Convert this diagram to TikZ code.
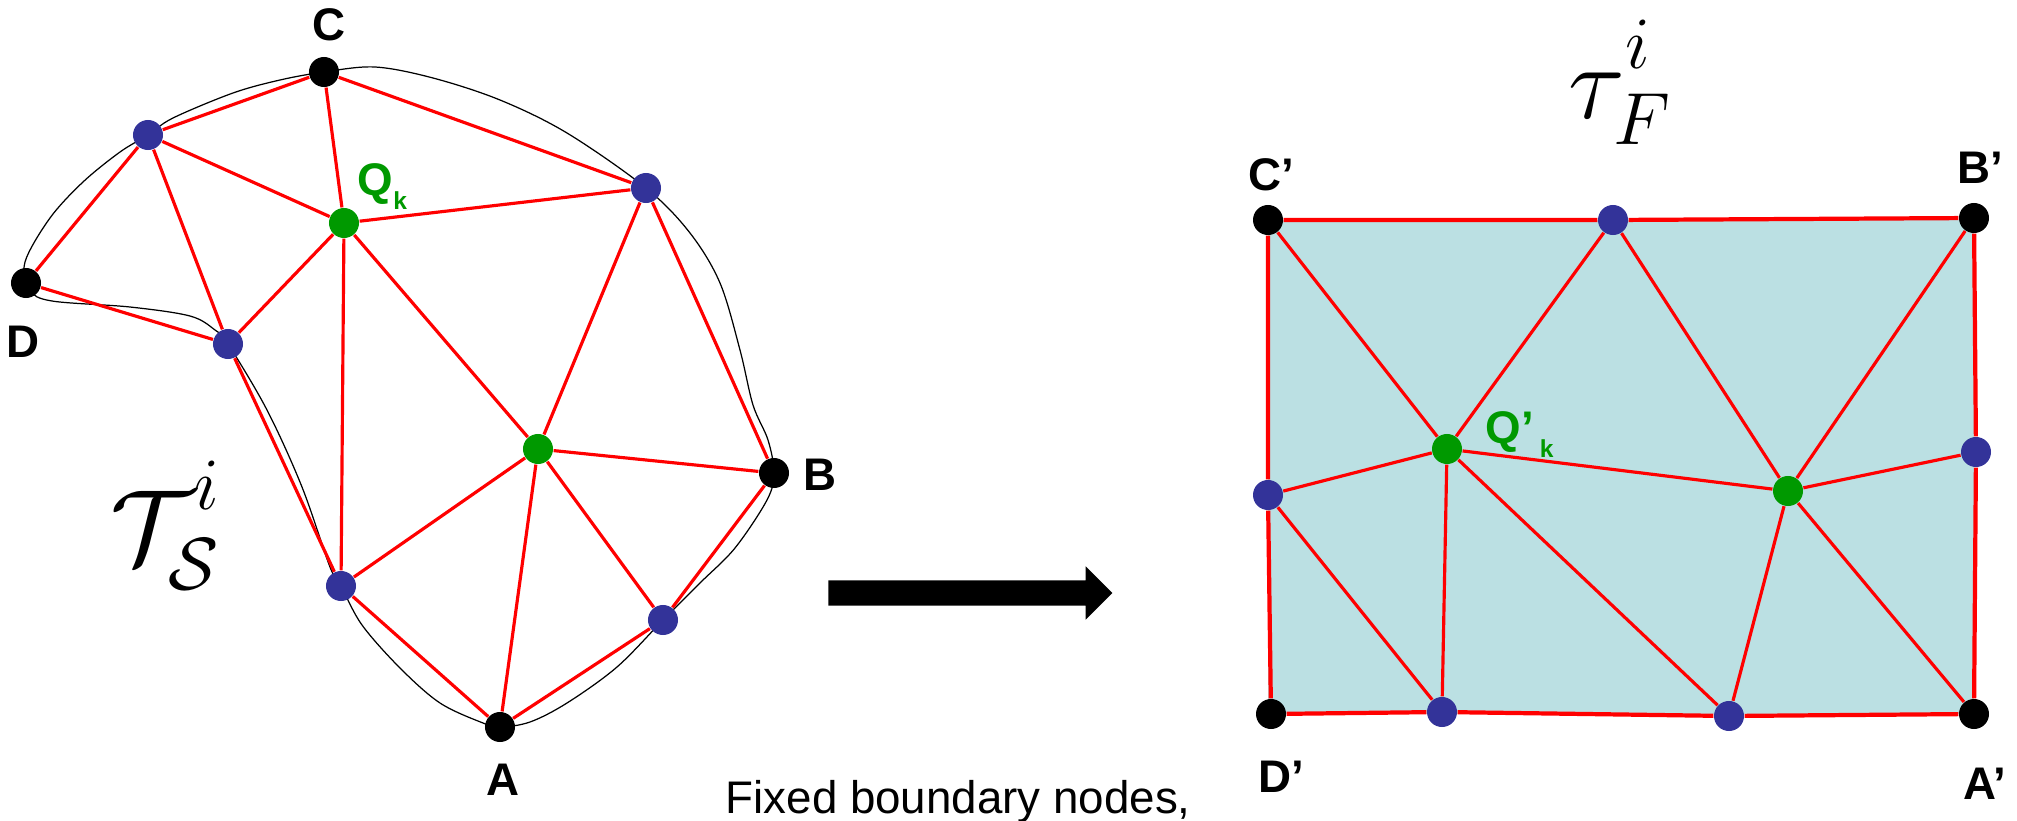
\RequirePackage{fix-cm}
\documentclass[tikz,border=0pt]{standalone}
\usepackage{fontspec}
\setsansfont{Liberation Sans}
\usepackage{tikz}
\usetikzlibrary{shapes.arrows, backgrounds}
\definecolor{meshred}{RGB}{255,0,0}
\definecolor{dotblue}{RGB}{51,51,153}
\definecolor{dotgreen}{RGB}{0,153,0}
\definecolor{facecyan}{RGB}{187,224,227}
\newcommand{\subk}{\raisebox{-1.4mm}{\fontsize{7}{7}\selectfont k}}
\newcommand{\supi}[1][0.12cm]{\raisebox{#1}{$\scriptstyle i$}}

\begin{document}
\begin{tikzpicture}[
  x=0.01cm, y=-0.01cm,
  dot/.style={circle, inner sep=0pt, minimum size=3mm},
  cornerdot/.style={dot, fill=black},
  edgedot/.style={dot, fill=dotblue},
  innerdot/.style={dot, fill=dotgreen},
  mesh/.style={draw=meshred, line width=0.9pt},
  rim/.style={draw=meshred, line width=1.2pt},
  lbl/.style={font=\sffamily\bfseries\fontsize{13}{15}\selectfont, inner sep=0pt},
  qlbl/.style={lbl, text=dotgreen, anchor=base west},
  bigmath/.style={font=\fontsize{30}{32}\selectfont, inner sep=0pt, anchor=base west}
]
\useasboundingbox (0,0) rectangle (2017,821);

% surface patch
\node[cornerdot] (C) at (324,72) {};
\node[cornerdot] (D) at (26,283) {};
\node[cornerdot] (B) at (774,473) {};
\node[cornerdot] (A) at (500,727) {};
\node[edgedot] (s1) at (148,135) {};
\node[edgedot] (s2) at (646,188) {};
\node[edgedot] (s3) at (228,344) {};
\node[edgedot] (s4) at (341,586) {};
\node[edgedot] (s5) at (663,620) {};
\node[innerdot] (Q) at (344,223) {};
\node[innerdot] (P) at (538,449) {};

\begin{scope}[on background layer]
\draw[line width=0.35pt] plot[smooth cycle, tension=0.55] coordinates {
  (25,262) (30,290) (52,301) (130,307) (190,316) (215,330) (s3.center)
  (267,410) (302,487) (330,567) (s4.center) (362,625) (400,668) (440,703)
  (483,723) (A.center) (530,722) (567,703) (617,667) (s5.center) (700,583)
  (735,548) (767,500) (774,473) (768,440) (753,405) (740,350) (720,283)
  (690,233) (s2.center) (567,133) (500,100) (433,78) (375,67) (C.center)
  (280,80) (233,93) (173,118) (s1.center) (120,152) (83,182) (50,218)};
\end{scope}

\draw[mesh] (C) -- (s1) (C) -- (Q) (C) -- (s2);
\draw[mesh] (s1) -- (D) (s1) -- (Q) (s1) -- (s3) (D) -- (s3);
\draw[mesh] (Q) -- (s2) (Q) -- (s3) (Q) -- (s4) (Q) -- (P);
\draw[mesh] (s2) -- (P) (s2) -- (B) (s3) -- (s4);
\draw[mesh] (P) -- (B) (P) -- (s4) (P) -- (A) (P) -- (s5);
\draw[mesh] (B) -- (s5) (s4) -- (A) (s5) -- (A);

\node[lbl] (labC) at (329,25) {C};
\node[lbl] (labD) at (23,342) {D};
\node[lbl] (labB) at (820,475) {B};
\node[lbl] (labA) at (503,780) {A};
\node[qlbl] (labQ) at (357,195) {Q\subk};
\node[bigmath] (TS) at (110,563) {$\mathcal{T}^{\supi[0.15cm]}_{\mathcal{S}}$};

% flattened rectangle
\node[cornerdot] (Cp) at (1268,220) {};
\node[cornerdot] (Bp) at (1974,218) {};
\node[cornerdot] (Ap) at (1974,714) {};
\node[cornerdot] (Dp) at (1271,714) {};
\node[edgedot] (r1) at (1613,220) {};
\node[edgedot] (r2) at (1976,452) {};
\node[edgedot] (r3) at (1729,716) {};
\node[edgedot] (r4) at (1442,712) {};
\node[edgedot] (r5) at (1268,495) {};
\node[innerdot] (Qp) at (1447,449) {};
\node[innerdot] (Pp) at (1788,491) {};

\begin{scope}[on background layer]
\fill[facecyan] (Cp.center) rectangle (Ap.center);
\end{scope}

\draw[rim] (Cp) -- (r1) -- (Bp) -- (r2) -- (Ap) -- (r3) -- (r4) -- (Dp) -- (r5) -- (Cp);
\draw[mesh] (Cp) -- (Qp) (r1) -- (Qp) (r1) -- (Pp) (Bp) -- (Pp);
\draw[mesh] (r2) -- (Pp) (Ap) -- (Pp) (r3) -- (Pp) (Qp) -- (Pp);
\draw[mesh] (r3) -- (Qp) (r4) -- (Qp) (r5) -- (Qp) (r5) -- (r4);

\node[lbl] (labCp) at (1271,175) {C’};
\node[lbl] (labBp) at (1980,168) {B’};
\node[lbl] (labDp) at (1281,777) {D’};
\node[lbl] (labAp) at (1985,784) {A’};
\node[qlbl] (labQp) at (1485,443) {Q’\hspace{0.6mm}\subk};
\node[bigmath] (TF) at (1568,118) {$\tau^{\supi[0.11cm]}_{F}$};

\node[single arrow, fill=black, minimum height=2.84cm, inner sep=0pt,
  inner ysep=0.12cm, single arrow head extend=0.14cm] (map) at (964,593) {};
\node[font=\sffamily\fontsize{13}{15}\selectfont, inner sep=0pt, anchor=base west]
  (note) at (725,813) {Fixed boundary nodes,};
\end{tikzpicture}
\end{document}
